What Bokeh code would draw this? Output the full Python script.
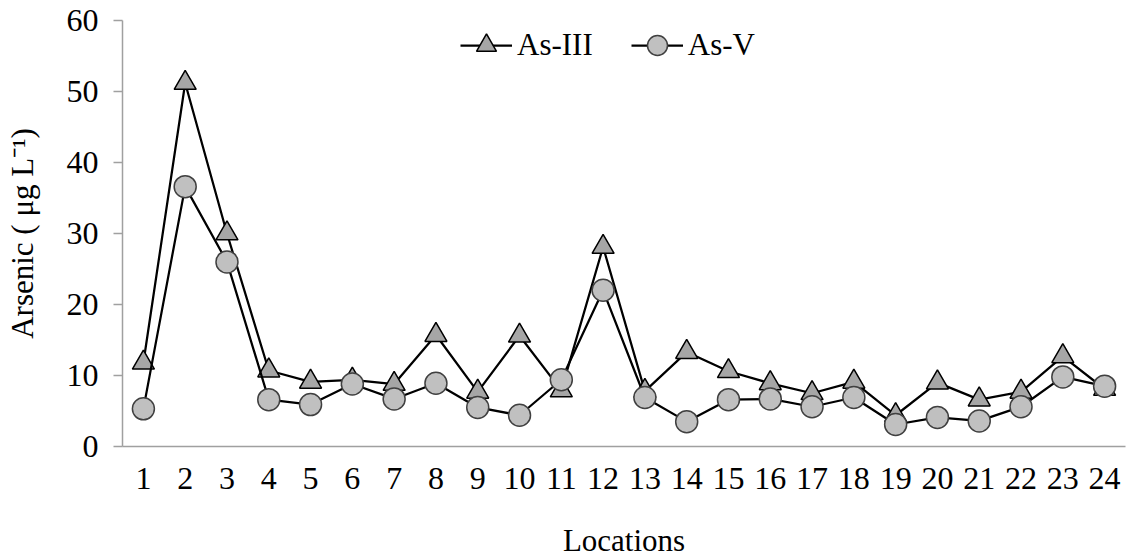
from bokeh.plotting import figure
from bokeh.models import FixedTicker, Range1d, Legend, LegendItem
from bokeh.embed import file_html
from bokeh.resources import INLINE

locations = list(range(1, 25))
as_iii = [11.8, 51.2, 30.0, 10.7, 9.1, 9.4, 8.8, 15.7, 7.7, 15.6, 7.9, 28.1,
          7.8, 13.3, 10.6, 8.9, 7.5, 9.1, 4.4, 9.0, 6.6, 7.7, 12.7, 8.1]
as_v = [5.3, 36.6, 26.0, 6.6, 5.9, 8.8, 6.7, 8.9, 5.5, 4.4, 9.4, 22.0,
        6.9, 3.5, 6.6, 6.7, 5.6, 6.9, 3.1, 4.1, 3.6, 5.6, 9.8, 8.5]
y_ticks = [0, 10, 20, 30, 40, 50, 60]

FONT = "Liberation Serif"
TICK_FS = "32px"
LABEL_FS = "31px"
AXIS_COLOR = "#a0a0a0"

p = figure(width=1128, height=550, output_backend="svg", toolbar_location=None,
           x_range=Range1d(0.5, 24.5), y_range=Range1d(0, 60),
           min_border_left=122, min_border_right=3, min_border_top=20, min_border_bottom=104)
p.frame_width = 1003
p.frame_height = 426
p.outline_line_color = None
p.xgrid.visible = False
p.ygrid.visible = False
p.background_fill_color = "white"
p.border_fill_color = "white"

# x axis
p.xaxis.ticker = FixedTicker(ticks=locations)
p.xaxis.major_tick_line_color = None
p.xaxis.minor_tick_line_color = None
p.xaxis.major_tick_out = 0
p.xaxis.major_tick_in = 0
p.xaxis.major_label_standoff = 21
p.xaxis.axis_label = "Locations"
p.xaxis.axis_label_standoff = 31

# y axis
p.yaxis.ticker = FixedTicker(ticks=y_ticks)
p.yaxis.minor_tick_line_color = None
p.yaxis.major_tick_in = 0
p.yaxis.major_tick_out = 9
p.yaxis.major_tick_line_color = AXIS_COLOR
p.yaxis.major_tick_line_width = 1.5
p.yaxis.major_label_standoff = 15
p.yaxis.axis_label = "Arsenic ( \u03bcg L\u207b\u00b9)"
p.yaxis.axis_label_standoff = 24

for ax in (p.xaxis, p.yaxis):
    ax.axis_line_color = AXIS_COLOR
    ax.axis_line_width = 1.5
    ax.major_label_text_font = FONT
    ax.major_label_text_font_size = TICK_FS
    ax.major_label_text_color = "black"
    ax.axis_label_text_font = FONT
    ax.axis_label_text_font_size = LABEL_FS
    ax.axis_label_text_font_style = "normal"
    ax.axis_label_text_color = "black"

l1 = p.line(locations, as_iii, line_color="black", line_width=2.25)
s1 = p.scatter(locations, as_iii, marker="triangle", size=22,
               fill_color="#a6a6a6", line_color="black", line_width=1.5)
l2 = p.line(locations, as_v, line_color="black", line_width=2.25)
s2 = p.scatter(locations, as_v, marker="circle", size=22,
               fill_color="#c0c0c0", line_color="#404040", line_width=1.5)

legend = Legend(items=[LegendItem(label="As-III", renderers=[l1, s1]),
                       LegendItem(label="As-V", renderers=[l2, s2])],
                orientation="horizontal", location=(338, 376),
                glyph_width=52, glyph_height=50, label_height=50,
                label_standoff=5, spacing=38, padding=0, margin=0,
                border_line_color=None, background_fill_alpha=0,
                label_text_font=FONT, label_text_font_size=LABEL_FS,
                label_text_color="black")
p.add_layout(legend, "center")

open("out.html", "w").write(file_html(p, INLINE))
